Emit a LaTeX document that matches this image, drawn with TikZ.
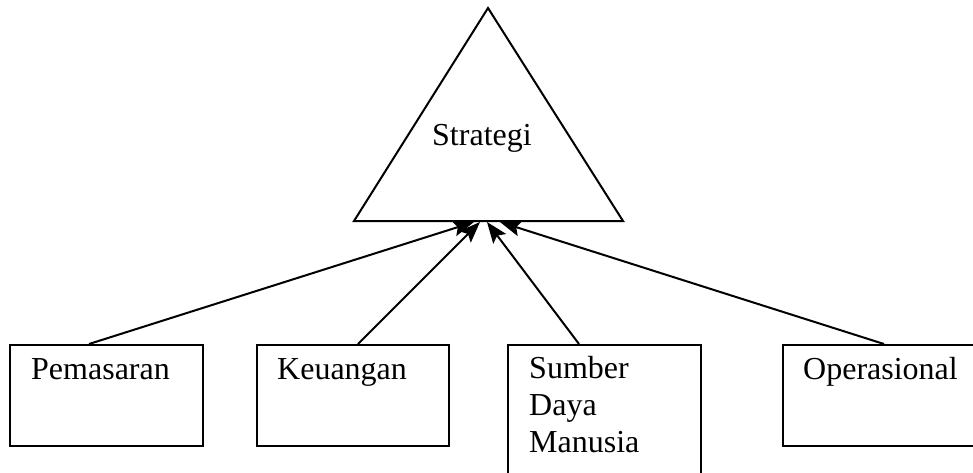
\documentclass[tikz,border=0pt]{standalone}
\usepackage{fontspec}
\setmainfont{Liberation Serif}
\usetikzlibrary{arrows.meta,calc}
\begin{document}
\begin{tikzpicture}[x=1pt,y=-1pt,
  line/.style={line width=2pt},
  unit/.style={draw,line width=2pt,rectangle,inner sep=0pt,anchor=north west},
  lbl/.style={font=\fontsize{32}{37}\selectfont,inner sep=0pt,anchor=base west,align=left},
  flow/.style={line width=2pt,-{Stealth[length=21pt,width=16pt,inset=4pt]}}]
  \useasboundingbox (0,0) rectangle (973,472);
  \clip (0,0) rectangle (973,472);
  % strategy triangle
  \coordinate (apex) at (488,8);
  \coordinate (bl) at (354,221);
  \coordinate (br) at (623,221);
  \draw[line,line join=miter] (apex) -- (bl) -- (br) -- cycle;
  \node[lbl] (strat) at (432,145) {Strategi};
  % functional areas
  \node[unit,minimum width=193pt,minimum height=101pt] (pem) at (9,344) {};
  \node[unit,minimum width=192pt,minimum height=101pt] (keu) at (256,344) {};
  \node[unit,minimum width=193pt,minimum height=150pt] (sdm) at (507,344) {};
  \node[unit,minimum width=210pt,minimum height=101pt] (ops) at (782,344) {};
  \node[lbl] (tpem) at (31,379) {Pemasaran};
  \node[lbl] (tkeu) at (277,379) {Keuangan};
  \node[lbl] (tsdm) at (529,452) {Sumber\\Daya\\Manusia};
  \node[lbl] (tops) at (803,379) {Operasional};
  % arrow end points on the triangle base
  \coordinate (t1) at (474,222);
  \coordinate (t2) at (480,222);
  \coordinate (t3) at (487,222);
  \coordinate (t4) at (500,222);
  % arrow start points on the box tops
  \coordinate (s1) at ($(pem.north west)+(80,0)$);
  \coordinate (s2) at ($(keu.north west)+(102,0)$);
  \coordinate (s3) at ($(sdm.north west)+(72,0)$);
  \coordinate (s4) at ($(ops.north west)+(102,0)$);
  \draw[flow] (s1) -- (t1);
  \draw[flow] (s2) -- (t2);
  \draw[flow] (s3) -- (t3);
  \draw[flow] (s4) -- (t4);
\end{tikzpicture}
\end{document}
